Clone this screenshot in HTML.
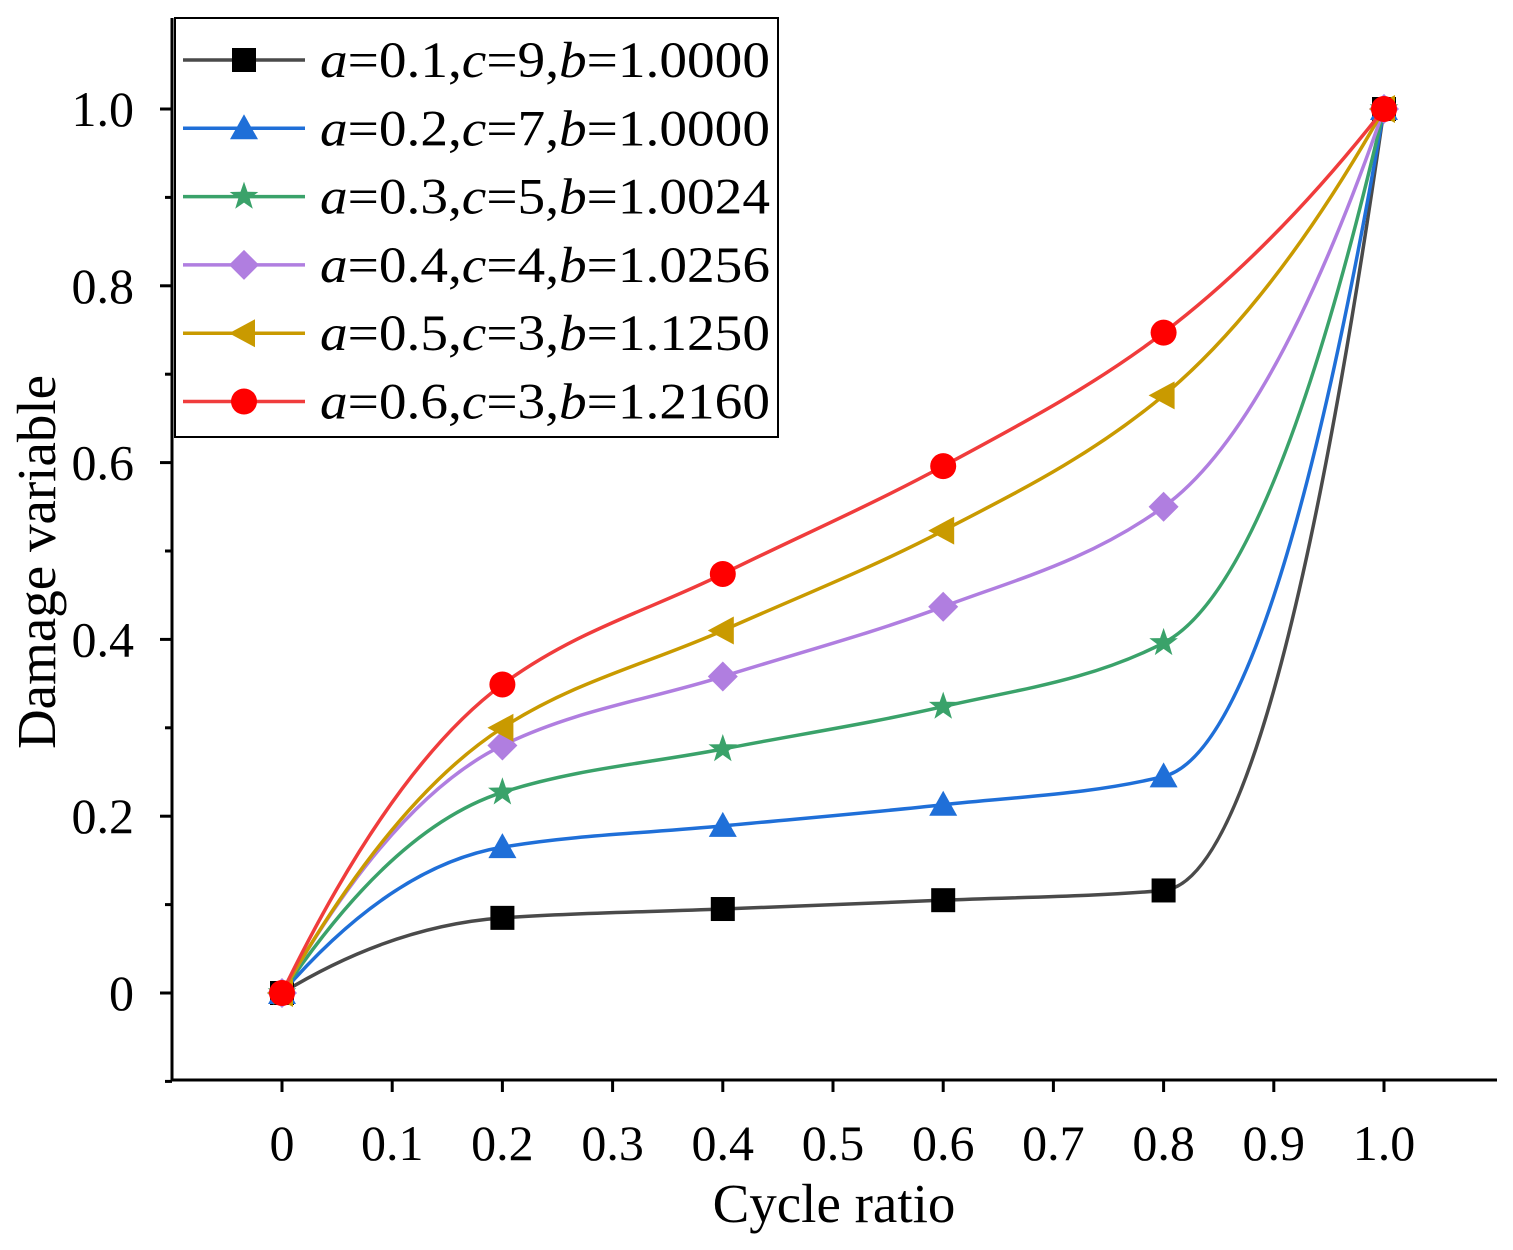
<!DOCTYPE html>
<html><head><meta charset="utf-8"><style>
html,body{margin:0;padding:0;background:#fff}
svg{display:block}
text{font-family:"Liberation Serif",serif}
</style></head><body>
<svg id="chart" width="1513" height="1250" xmlns="http://www.w3.org/2000/svg" font-family="Liberation Serif, serif">
</svg>
<script>
const xValues=[0,0.2,0.4,0.6,0.8,1.0];
const seriesBlack=[0,0.085,0.095,0.105,0.116,1.0];
const seriesBlue=[0,0.165,0.189,0.213,0.245,1.0];
const seriesGreen=[0,0.227,0.276,0.324,0.396,1.0];
const seriesPurple=[0,0.28,0.358,0.437,0.55,1.0];
const seriesGold=[0,0.30,0.41,0.523,0.676,1.0];
const seriesRed=[0,0.349,0.474,0.596,0.747,1.0];
const seriesLabels=[["0.1","9","1.0000"],["0.2","7","1.0000"],["0.3","5","1.0024"],["0.4","4","1.0256"],["0.5","3","1.1250"],["0.6","3","1.2160"]];
const xTicks=[0,0.1,0.2,0.3,0.4,0.5,0.6,0.7,0.8,0.9,1.0];
const xTickLabels=["0","0.1","0.2","0.3","0.4","0.5","0.6","0.7","0.8","0.9","1.0"];
const yTicks=[0,0.2,0.4,0.6,0.8,1.0];
const yTickLabels=["0","0.2","0.4","0.6","0.8","1.0"];

const NS="http://www.w3.org/2000/svg";
const svg=document.getElementById('chart');
const X=v=>282+v*1102;
const Y=v=>993-v*884;
const FF="Liberation Serif, serif";
function mk(tag,attrs,parent){const e=document.createElementNS(NS,tag);for(const k in attrs)e.setAttribute(k,attrs[k]);(parent||svg).appendChild(e);return e;}
function tspan(parent,txt,italic){const t=mk('tspan',{'font-family':FF},parent);if(italic)t.setAttribute('font-style','italic');t.textContent=txt;return t;}

let e;
e=mk('line',{x1:172,y1:1080,x2:1497,y2:1080,stroke:'#000','stroke-width':3});


e=mk('line',{x1:172,y1:18,x2:172,y2:1081.5,stroke:'#000','stroke-width':3});


xTicks.forEach((t,i)=>{
  e=mk('line',{x1:X(t),y1:1080,x2:X(t),y2:1092,stroke:'#000','stroke-width':3});
  
  
  e=mk('text',{x:X(t),y:1160,'font-size':50,'text-anchor':'middle','font-family':FF});e.textContent=xTickLabels[i];
  
  
});
for(let k=-1;k<=10;k++){
  const v=k/10;
  const major=(k%2===0);
  e=mk('line',{x1:172,y1:Y(v),x2:major?160:165,y2:Y(v),stroke:'#000','stroke-width':3});
  
  
}
yTicks.forEach((t,i)=>{
  e=mk('text',{x:134,y:Y(t)+17,'font-size':50,'text-anchor':'end','font-family':FF});e.textContent=yTickLabels[i];
  
  
});
e=mk('text',{x:834,y:1222,'font-size':55,'text-anchor':'middle','font-family':FF});e.textContent='Cycle ratio';


e=mk('text',{x:0,y:0,'font-size':55,'text-anchor':'middle','font-family':FF,transform:'translate(55,562) rotate(-90)'});e.textContent='Damage variable';



function mono(xs,ys){
  const n=xs.length,d=[],m=[];
  for(let i=0;i<n-1;i++)d.push((ys[i+1]-ys[i])/(xs[i+1]-xs[i]));
  for(let i=1;i<n-1;i++){
    if(d[i-1]*d[i]<=0)m[i]=0;
    else{const w1=2*(xs[i+1]-xs[i])+(xs[i]-xs[i-1]),w2=(xs[i+1]-xs[i])+2*(xs[i]-xs[i-1]);m[i]=(w1+w2)/(w1/d[i-1]+w2/d[i]);}
  }
  m[0]=Math.max(d[0],2*d[0]-m[1]);
  m[n-1]=Math.max(d[n-2],2*d[n-2]-m[n-2]);
  let p='M'+X(xs[0])+','+Y(ys[0]);
  for(let i=0;i<n-1;i++){
    const h=xs[i+1]-xs[i];
    p+=' C'+X(xs[i]+h/3)+','+Y(ys[i]+m[i]*h/3)+' '+X(xs[i+1]-h/3)+','+Y(ys[i+1]-m[i+1]*h/3)+' '+X(xs[i+1])+','+Y(ys[i+1]);
  }
  return p;
}
const allSeries=[seriesBlack,seriesBlue,seriesGreen,seriesPurple,seriesGold,seriesRed];
const lineColors=['#4a4a4a','#1f6fd8','#3aa26a','#b07ee0','#c99a00','#f03c3c'];
const markColors=['#000','#1f6fd8','#3aa26a','#b07ee0','#c99a00','#ff0000'];
const shapes=['square','triangle','star','diamond','lefttri','circle'];
function marker(shape,cx,cy,col,parent){
  const s=12;
  if(shape==='square')return mk('rect',{x:cx-s,y:cy-s,width:2*s,height:2*s,fill:col},parent);
  if(shape==='circle')return mk('circle',{cx,cy,r:13,fill:col},parent);
  if(shape==='triangle')return mk('polygon',{points:`${cx},${cy-14} ${cx+14},${cy+11} ${cx-14},${cy+11}`,fill:col},parent);
  if(shape==='lefttri')return mk('polygon',{points:`${cx-15},${cy} ${cx+11},${cy-14} ${cx+11},${cy+14}`,fill:col},parent);
  if(shape==='diamond')return mk('polygon',{points:`${cx},${cy-15} ${cx+15},${cy} ${cx},${cy+15} ${cx-15},${cy}`,fill:col},parent);
  let pts=[];for(let k=0;k<10;k++){const r=k%2?6:15,a=-Math.PI/2+k*Math.PI/5;pts.push((cx+r*Math.cos(a)).toFixed(1)+','+(cy+r*Math.sin(a)).toFixed(1));}
  return mk('polygon',{points:pts.join(' '),fill:col},parent);
}
allSeries.forEach((ys,si)=>{
  const g=mk('g',{});
  
  
  e=mk('path',{d:mono(xValues,ys),fill:'none',stroke:lineColors[si],'stroke-width':3.5},g);
  
  
  ys.forEach((v,i)=>{
    e=marker(shapes[si],X(xValues[i]),Y(v),markColors[si],g);
    
    
  });
});

const lg=mk('g',{});


e=mk('rect',{x:175,y:18,width:603,height:419,fill:'#fff',stroke:'#000','stroke-width':2},lg);


seriesLabels.forEach((lab,i)=>{
  const cy=60+i*68.3;
  const g=mk('g',{},lg);
  
  
  mk('line',{x1:183,y1:cy,x2:305,y2:cy,stroke:lineColors[i],'stroke-width':3.5},g);
  marker(shapes[i],244,cy,markColors[i],g);
  const t=mk('text',{x:320,y:cy+17,'font-size':51,'font-family':FF,textLength:450,lengthAdjust:'spacingAndGlyphs'},g);
  tspan(t,'a',true);tspan(t,'=' +lab[0]+',');tspan(t,'c',true);tspan(t,'='+lab[1]+',');tspan(t,'b',true);tspan(t,'='+lab[2]);
});
</script>
</body></html>
